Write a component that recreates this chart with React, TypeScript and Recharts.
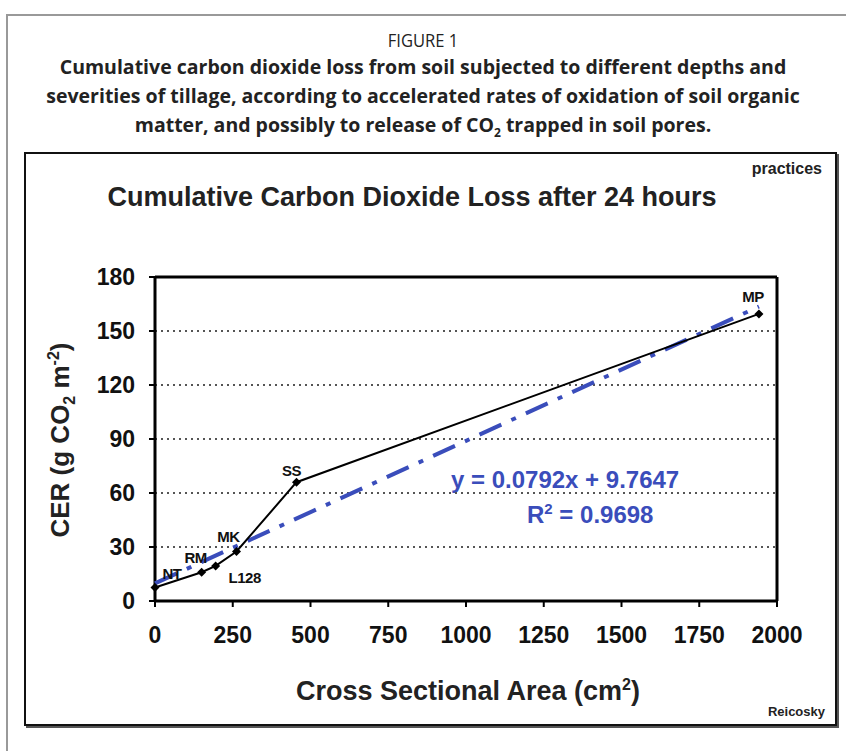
import React from "react";
import {
  ScatterChart,
  Scatter,
  XAxis,
  YAxis,
  CartesianGrid,
  ReferenceLine,
  LabelList,
} from "recharts";

const treatments = ["NT", "RM", "L128", "MK", "SS", "MP"];
const areaCm2 = [0, 150, 195, 262, 455, 1942];
const cerValues = [7.5, 16, 19.5, 27.5, 66, 159.5];

const trendX = [0, 1942];
const trendY = [9.76, 163.6];

const xTicks = [0, 250, 500, 750, 1000, 1250, 1500, 1750, 2000];
const yTicks = [0, 30, 60, 90, 120, 150, 180];

const points = treatments.map((name, i) => ({ name, x: areaCm2[i], y: cerValues[i] }));
const trend = trendX.map((x, i) => ({ x, y: trendY[i] }));

const BLUE = "#3a4dbb";
const FONT = "'Liberation Sans', Arial, sans-serif";

const labelOffsets: Record<string, [number, number]> = {
  NT: [17, -14],
  RM: [-6, -15],
  L128: [29, 12],
  MK: [-8, -15],
  SS: [-5, -12],
  MP: [-6, -17],
};

function Diamond(props: any) {
  const { cx, cy } = props;
  if (cx == null || cy == null) return null;
  return <path d={`M${cx},${cy - 4.5}L${cx + 4.5},${cy}L${cx},${cy + 4.5}L${cx - 4.5},${cy}Z`} fill="#000" />;
}

function NoShape() {
  return <g />;
}

function PointLabel(props: any) {
  const { x, y, width, height, value } = props;
  const [dx, dy] = labelOffsets[value] || [0, -12];
  const cx = x + (width || 0) / 2;
  const cy = y + (height || 0) / 2;
  return (
    <text
      x={cx + dx}
      y={cy + dy}
      textAnchor="middle"
      dominantBaseline="central"
      fontFamily={FONT}
      fontWeight="bold"
      fontSize={15}
      letterSpacing={-0.5}
      fill="#111"
    >
      {value}
    </text>
  );
}

export default function App() {
  return (
    <div
      style={{
        position: "absolute",
        left: 0,
        top: 0,
        width: 846,
        height: 751,
        background: "#fff",
        overflow: "hidden",
      }}
    >
      {/* outer frame */}
      <div
        style={{
          position: "absolute",
          left: 6,
          top: 14,
          width: 860,
          height: 760,
          border: "2px solid #999",
        }}
      />
      {/* caption */}
      <div style={{ position: "absolute", left: 0, width: 846, top: 28, textAlign: "center", fontFamily: "'Open Sans', sans-serif", color: "#222" }}>
        <div style={{ fontSize: 18, lineHeight: "24px", transform: "scaleX(0.92)" }}>FIGURE 1</div>
        <div style={{ fontSize: 19.5, fontWeight: "bold", lineHeight: "29px" }}>
          Cumulative carbon dioxide loss from soil subjected to different depths and
        </div>
        <div style={{ fontSize: 19.5, fontWeight: "bold", lineHeight: "29px" }}>
          severities of tillage, according to accelerated rates of oxidation of soil organic
        </div>
        <div style={{ fontSize: 19.5, fontWeight: "bold", lineHeight: "29px" }}>
          matter, and possibly to release of CO<sub style={{ fontSize: 12 }}>2</sub> trapped in soil pores.
        </div>
      </div>
      {/* inner chart box */}
      <div
        style={{
          position: "absolute",
          left: 24,
          top: 152,
          width: 809,
          height: 570,
          border: "2px solid #111",
          boxShadow: "2px 2px 0 #555",
        }}
      />
      <div style={{ position: "absolute", right: 24, top: 160, fontFamily: FONT, fontWeight: "bold", fontSize: 16, color: "#222" }}>
        practices
      </div>
      <div style={{ position: "absolute", right: 21, top: 704, fontFamily: FONT, fontWeight: "bold", fontSize: 13, color: "#222" }}>
        Reicosky
      </div>
      <div
        style={{
          position: "absolute",
          left: 0,
          width: 824,
          top: 182,
          textAlign: "center",
          fontFamily: FONT,
          fontWeight: "bold",
          fontSize: 27,
          color: "#222",
        }}
      >
        Cumulative Carbon Dioxide Loss after 24 hours
      </div>
      {/* y label */}
      <div
        style={{
          position: "absolute",
          left: 62,
          top: 440,
          transform: "translate(-50%, -50%) rotate(-90deg)",
          whiteSpace: "nowrap",
          fontFamily: FONT,
          fontWeight: "bold",
          fontSize: 26,
          color: "#222",
        }}
      >
        CER (g CO<sub style={{ fontSize: 16 }}>2</sub> m<sup style={{ fontSize: 16 }}>-2</sup>)
      </div>
      {/* x label */}
      <div
        style={{
          position: "absolute",
          left: 468,
          top: 691,
          transform: "translate(-50%, -50%)",
          whiteSpace: "nowrap",
          fontFamily: FONT,
          fontWeight: "bold",
          fontSize: 27,
          color: "#222",
        }}
      >
        Cross Sectional Area (cm<sup style={{ fontSize: 16 }}>2</sup>)
      </div>
      {/* regression text */}
      <div style={{ position: "absolute", left: 451, top: 466, fontFamily: FONT, fontWeight: "bold", fontSize: 24, color: BLUE, whiteSpace: "nowrap" }}>
        y = 0.0792x + 9.7647
      </div>
      <div style={{ position: "absolute", left: 527, top: 500, fontFamily: FONT, fontWeight: "bold", fontSize: 24, color: BLUE, whiteSpace: "nowrap" }}>
        R<sup style={{ fontSize: 15 }}>2</sup> = 0.9698
      </div>

      <div style={{ position: "absolute", left: 0, top: 0 }}>
        <ScatterChart width={846} height={751} margin={{ top: 277, right: 69, bottom: 120, left: 95 }}>
          <CartesianGrid vertical={false} horizontal stroke="#555" strokeWidth={2} strokeDasharray="2 4" />
          <XAxis
            type="number"
            dataKey="x"
            domain={[0, 2000]}
            ticks={xTicks}
            height={30}
            axisLine={{ stroke: "#000", strokeWidth: 3 }}
            tickLine={{ stroke: "#000", strokeWidth: 2 }}
            tickSize={6}
            tickMargin={20}
            tick={{ fill: "#111", fontFamily: FONT, fontWeight: "bold", fontSize: 23 }}
            interval={0}
          />
          <YAxis
            type="number"
            dataKey="y"
            domain={[0, 180]}
            ticks={yTicks}
            width={60}
            axisLine={{ stroke: "#000", strokeWidth: 3 }}
            tickLine={{ stroke: "#000", strokeWidth: 2 }}
            tickSize={6}
            tickMargin={14}
            tick={{ fill: "#111", fontFamily: FONT, fontWeight: "bold", fontSize: 23 }}
            interval={0}
          />
          <ReferenceLine y={180} stroke="#000" strokeWidth={3} />
          <ReferenceLine x={2000} stroke="#000" strokeWidth={3} />
          <Scatter
            data={trend}
            line={{ stroke: BLUE, strokeWidth: 4, strokeDasharray: "24 11 5 11" }}
            shape={<NoShape />}
            isAnimationActive={false}
          />
          <Scatter
            data={points}
            line={{ stroke: "#000", strokeWidth: 2 }}
            shape={<Diamond />}
            isAnimationActive={false}
          >
            <LabelList dataKey="name" content={<PointLabel />} />
          </Scatter>
        </ScatterChart>
      </div>
    </div>
  );
}
